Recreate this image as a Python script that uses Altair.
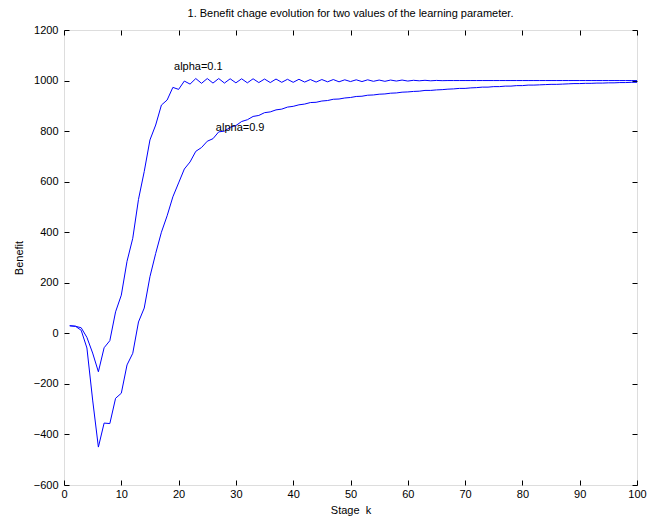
import altair as alt
import pandas as pd

stages = list(range(1, 101))

benefit_alpha_01 = [
    30, 28, 22, -16, -78, -152, -57, -29, 85, 151,
    285, 376, 530, 640, 765, 824, 903, 923, 973, 965,
    998, 986, 1008, 989, 1008, 990, 1008, 990, 1007, 991,
    1007, 991, 1007, 992, 1006, 992, 1006, 993, 1005, 993,
    1005, 994, 1004, 994, 1004, 995, 1004, 995, 1003, 996,
    1003, 996, 1003, 997, 1002, 997, 1002, 998, 1002, 998,
    1001, 999, 1001, 999, 1000.5, 999.5, 1000, 1000, 1000, 1000,
    1000, 1000, 1000, 1000, 1000, 1000, 1000, 1000, 1000, 1000,
    1000, 1000, 1000, 1000, 1000, 1000, 1000, 1000, 1000, 1000,
    1000, 1000, 1000, 1000, 1000, 1000, 1000, 1000, 1000, 1000,
]

benefit_alpha_09 = [
    30, 28, 12, -58, -264, -450, -355, -357, -257, -237,
    -125, -79, 45, 100, 224, 316, 400, 465, 540, 595,
    650, 678, 720, 735, 760, 770, 797, 800, 815, 822,
    838, 845, 858, 862, 873, 876, 884, 887, 895, 898,
    904, 907, 913, 914, 919, 921, 926, 927, 931, 933,
    937, 938, 942, 943, 946, 947, 950, 951, 954, 955,
    957, 958, 961, 961, 963, 964, 966, 967, 969, 969,
    971, 972, 974, 974, 976, 976, 978, 978, 980, 980,
    982, 982, 983, 984, 985, 985, 986, 987, 988, 988,
    989, 989, 990, 990, 991, 991, 992, 992, 993, 993,
]

series_names = ["alpha=0.1", "alpha=0.9"]

label_texts = ["alpha=0.1", "alpha=0.9"]
label_k = [19.2, 26.5]
label_benefit = [1052, 812]

x_ticks = list(range(0, 101, 10))
y_ticks = list(range(-600, 1201, 200))

title_text = "1. Benefit chage evolution for two values of the learning parameter."
x_title = "Stage \u00a0k"
y_title = "Benefit"

rows = []
for name, vals in zip(series_names, [benefit_alpha_01, benefit_alpha_09]):
    for k, v in zip(stages, vals):
        rows.append({"k": k, "benefit": v, "series": name})
df = pd.DataFrame(rows)

labels_df = pd.DataFrame({"k": label_k, "benefit": label_benefit, "text": label_texts})

FONT = "Liberation Sans"

x_scale = alt.Scale(domain=[0, 100], nice=False, zero=False)
y_scale = alt.Scale(domain=[-600, 1200], nice=False, zero=False)

common_axis = dict(
    tickSize=5, offset=-5, domain=False, grid=False,
    tickColor="black", labelColor="black", titleColor="black",
    labelFont=FONT, titleFont=FONT, labelFontSize=11, titleFontSize=11,
    titleFontWeight="normal", labelFlush=False, labelOverlap=False,
    labelBound=False,
)

lines = alt.Chart(df).mark_line(color="#0000ff", strokeWidth=1).encode(
    x=alt.X("k:Q", scale=x_scale,
            axis=alt.Axis(values=x_ticks, orient="bottom", title=x_title,
                          labelPadding=3, titlePadding=5, format="d", **common_axis)),
    y=alt.Y("benefit:Q", scale=y_scale,
            axis=alt.Axis(values=y_ticks, orient="left", title=y_title,
                          labelPadding=6, titlePadding=9, format="d", **common_axis)),
    detail="series:N",
)

frame_axes = alt.Chart(df).mark_point(opacity=0).encode(
    x=alt.X("k:Q", scale=x_scale,
            axis=alt.Axis(values=x_ticks, orient="top", labels=False, title=None,
                          **common_axis)),
    y=alt.Y("benefit:Q", scale=y_scale,
            axis=alt.Axis(values=y_ticks, orient="right", labels=False, title=None,
                          **common_axis)),
)

texts = alt.Chart(labels_df).mark_text(
    align="left", baseline="middle", font=FONT, fontSize=11, color="black"
).encode(
    x=alt.X("k:Q", scale=x_scale, axis=None),
    y=alt.Y("benefit:Q", scale=y_scale, axis=None),
    text="text:N",
)

chart = alt.layer(lines, texts, frame_axes).resolve_axis(
    x="independent", y="independent"
).properties(
    width=573,
    height=455,
    autosize=alt.AutoSizeParams(type="none"),
    padding={"left": 56, "top": 22, "right": 16, "bottom": 40},
    title=alt.TitleParams(title_text, font=FONT, fontSize=11, fontWeight="normal",
                          anchor="middle", color="black", offset=5),
).configure_view(stroke="black", strokeWidth=1).configure(background="white")

chart.save("out.html", embed_options={"renderer": "svg", "actions": False})
